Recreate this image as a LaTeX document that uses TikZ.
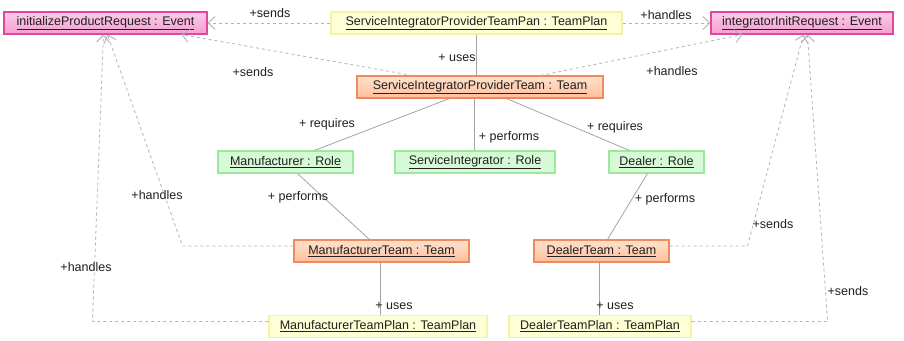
\documentclass[tikz,border=0pt]{standalone}
\usepackage{fontspec}
\setmainfont{Liberation Sans}
\usetikzlibrary{arrows.meta,calc}

\definecolor{evBorder}{HTML}{E2479E}
\definecolor{evTop}{HTML}{FCCBE8}
\definecolor{evBot}{HTML}{F49FD0}
\definecolor{tmBorder}{HTML}{EE8A5C}
\definecolor{tmTop}{HTML}{FFE2CF}
\definecolor{tmBot}{HTML}{FFBE9C}
\definecolor{rlBorder}{HTML}{9EE89E}
\definecolor{rlFill}{HTML}{D6FAD6}
\definecolor{plBorder}{HTML}{F2F2A8}
\definecolor{plFill}{HTML}{FFFFD6}
\definecolor{linkGray}{HTML}{A4A4A4}
\definecolor{depGray}{HTML}{B4B4B4}
\definecolor{txt}{HTML}{202020}

\tikzset{
  obj/.style={minimum height=22pt, inner sep=0pt, line width=1.1pt, text=txt},
  eventbox/.style={obj, draw=evBorder, top color=evTop, bottom color=evBot},
  teambox/.style={obj, draw=tmBorder, top color=tmTop, bottom color=tmBot},
  rolebox/.style={obj, draw=rlBorder, fill=rlFill},
  planbox/.style={obj, draw=plBorder, fill=plFill},
  link/.style={draw=linkGray, line width=0.8pt},
  dep/.style={draw=depGray, line width=0.8pt, dash pattern=on 3pt off 3pt,
    -{Straight Barb[length=7pt,width=13pt,line width=0.9pt]}},
  lbl/.style={inner sep=0pt, text=txt}
}

\begin{document}
\begin{tikzpicture}[x=1pt, y=-1pt, font=\fontsize{12.5}{14}\selectfont]
\useasboundingbox[fill=white] (0,0) rectangle (904,340);

% object boxes
\node[eventbox, minimum width=203pt] (ipr)  at (105.5,23) {\underline{initializeProductRequest : Event}};
\node[planbox,  minimum width=291pt] (sipp) at (476.5,23) {\underline{ServiceIntegratorProviderTeamPan : TeamPlan}};
\node[eventbox, minimum width=182pt] (iir)  at (802,23)   {\underline{integratorInitRequest : Event}};
\node[teambox,  minimum width=246pt] (sipt) at (480,87)   {\underline{ServiceIntegratorProviderTeam : Team}};
\node[rolebox,  minimum width=135pt] (mfr)  at (285.5,162){\underline{Manufacturer : Role}};
\node[rolebox,  minimum width=160pt] (sir)  at (475,162)  {\underline{ServiceIntegrator : Role}};
\node[rolebox,  minimum width=95pt]  (dlr)  at (656.5,162){\underline{Dealer : Role}};
\node[teambox,  minimum width=175pt] (mtm)  at (381.5,251){\underline{ManufacturerTeam : Team}};
\node[teambox,  minimum width=135pt] (dtm)  at (601.5,251){\underline{DealerTeam : Team}};
\node[planbox,  minimum width=218pt] (mpl)  at (378,326.5){\underline{ManufacturerTeamPlan : TeamPlan}};
\node[planbox,  minimum width=182pt] (dpl)  at (600,326.5){\underline{DealerTeamPlan : TeamPlan}};

% solid associations
\draw[link] (sipp.south) -- (sipp.south |- sipt.north);
\draw[link] ($(sipt.south west)+(93,0)$) -- ($(mfr.north west)+(97,0)$);
\draw[link] ($(sipt.south west)+(118,0)$) -- ($(sir.north west)+(80,0)$);
\draw[link] ($(sipt.south west)+(150,0)$) -- ($(dlr.north west)+(21,0)$);
\draw[link] ($(mfr.south west)+(80,0)$) -- ($(mtm.north west)+(76,0)$);
\draw[link] ($(dlr.south west)+(39,0)$) -- ($(dtm.north west)+(74,0)$);
\draw[link] ($(mtm.south west)+(87,0)$) -- ($(mpl.north west)+(112,0)$);
\draw[link] ($(dtm.south west)+(66,0)$) -- ($(dpl.north west)+(91,0)$);

% dependencies to events
\draw[dep] (sipp.west) -- (ipr.east);
\draw[dep] (sipp.east) -- (iir.west);
\draw[dep] ($(sipt.north west)+(56,0)$) -- ($(ipr.south west)+(178,0)$);
\draw[dep] ($(sipt.north east)+(-63,0)$) -- ($(iir.south west)+(32,0)$);
\draw[dep] ($(mtm.west)+(0,-5)$) -- ++(-111,0) -- ($(ipr.south west)+(104,0)$);
\draw[dep] ($(mpl.west)+(0,-5)$) -- ++(-176,0) -- ($(ipr.south west)+(100,0)$);
\draw[dep] ($(dtm.east)+(0,-5)$) -- ++(78,0) -- ($(iir.south west)+(93,0)$);
\draw[dep] ($(dpl.east)+(0,-5)$) -- ++(136,0) -- ($(iir.south west)+(97,0)$);

% role labels
\node[lbl] (l1)  at (270,13)  {+sends};
\node[lbl] (l2)  at (666,15)  {+handles};
\node[lbl] (l3)  at (457,58)  {+ uses};
\node[lbl] (l4)  at (253,72)  {+sends};
\node[lbl] (l5)  at (672,71)  {+handles};
\node[lbl] (l6)  at (327,124) {+ requires};
\node[lbl] (l7)  at (509,137) {+ performs};
\node[lbl] (l8)  at (615,127) {+ requires};
\node[lbl] (l9)  at (157,195) {+handles};
\node[lbl] (l10) at (298,197) {+ performs};
\node[lbl] (l11) at (665,199) {+ performs};
\node[lbl] (l12) at (773,224) {+sends};
\node[lbl] (l13) at (86,267)  {+handles};
\node[lbl] (l14) at (394,306) {+ uses};
\node[lbl] (l15) at (615,306) {+ uses};
\node[lbl] (l16) at (848,291) {+sends};
\end{tikzpicture}
\end{document}
